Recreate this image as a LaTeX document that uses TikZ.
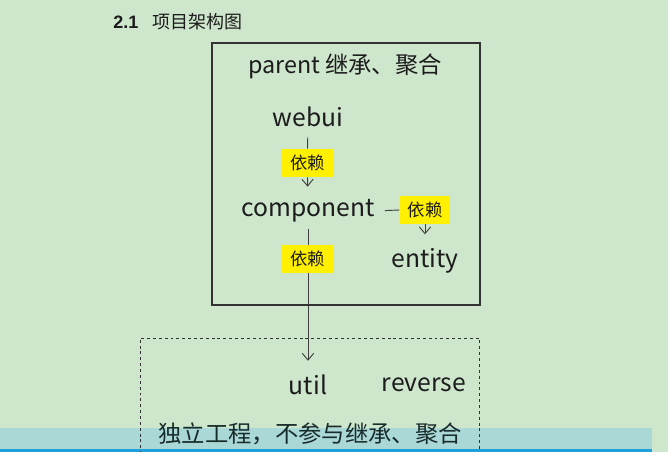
\documentclass[tikz,border=0pt]{standalone}
\usepackage{fontspec}
\setmainfont{Noto Sans CJK SC}
\newfontfamily\arialfont{Liberation Sans}
\usetikzlibrary{arrows.meta}
\pgfdeclarelayer{background}
\pgfdeclarelayer{canvas}
\pgfsetlayers{canvas,background,main}
\definecolor{bggreen}{RGB}{206,230,204}
\definecolor{bandblue}{RGB}{170,216,214}
\definecolor{lineblue}{RGB}{30,160,220}
\definecolor{inkc}{RGB}{28,28,28}
\definecolor{depyellow}{RGB}{255,240,0}
\tikzset{
  x=0.75pt, y=-0.75pt,
  lbl/.style={inner sep=0pt, text=inkc, font=\fontsize{18.5}{20}\selectfont},
  cjklbl/.style={inner sep=0pt, text=inkc, font=\fontsize{17.5}{20}\selectfont},
  deplbl/.style={fill=depyellow, inner sep=0pt, minimum width=38pt, minimum height=21pt, text=inkc, font=\fontsize{13}{15}\selectfont},
  conn/.style={draw=black!75, line width=0.7pt},
  arr/.style={conn, -{Straight Barb[length=5pt, width=8.5pt]}},
}
\begin{document}
\begin{tikzpicture}
\useasboundingbox (0,0) rectangle (668,452);
\begin{pgfonlayer}{canvas}
\fill[bggreen] (0,0) rectangle (668,452);
\fill[bandblue] (0,428) rectangle (652,449);
\fill[lineblue] (0,449) rectangle (652,452);
\end{pgfonlayer}

% title
\node[anchor=west, inner sep=0pt, text=inkc, font=\arialfont\bfseries\fontsize{13.5}{15}\selectfont] (tnum) at (113,22) {2.1};
\node[anchor=west, inner sep=0pt, text=inkc, font=\fontsize{13.5}{15}\selectfont] (ttext) at (152,22) {项目架构图};

% frames
\draw[black!80, line width=0.8pt] (212,43) rectangle (480,305);
\draw[black!80, line width=0.6pt, dash pattern=on 2.2pt off 2.2pt] (140,460) -- (140,338) -- (479,338) -- (479,460);

% labels
\node[cjklbl] (parent) at (345,66) {parent 继承、聚合};
\node[lbl] (webui) at (308,116.5) {webui};
\node[lbl] (comp) at (308,211) {component};
\node[lbl] (entity) at (425,261) {entity};
\node[lbl] (util) at (308,385) {util};
\node[lbl] (reverse) at (424,385) {reverse};
\node[cjklbl, text=inkc!85!teal] (indep) at (310,434) {独立工程，不参与继承、聚合};

% dependency tags
\node[deplbl] (dep1) at (307.5,163) {依赖};
\node[deplbl] (dep2) at (425,210) {依赖};
\node[deplbl] (dep3) at (307.5,259) {依赖};

% connectors
\draw[conn, shorten <=8pt] (webui.south) -- (dep1.north);
\draw[arr, shorten >=9.5pt] (dep1.south) -- (comp.north);
\draw[conn, shorten <=7.5pt] (comp.east) -- (dep2.west);
\draw[arr, shorten >=10.5pt] (dep2.south) -- (entity.north);
\begin{pgfonlayer}{background}
\draw[arr, shorten <=5pt, shorten >=10.5pt] (comp.south) -- (util.north);
\end{pgfonlayer}
\end{tikzpicture}
\end{document}
